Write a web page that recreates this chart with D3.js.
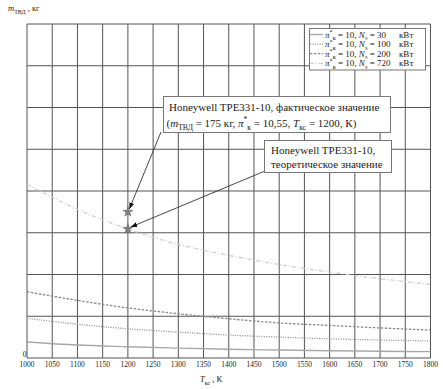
<!DOCTYPE html>
<html><head><meta charset="utf-8">
<script src="https://cdn.jsdelivr.net/npm/d3@7"></script>
<style>body{margin:0;background:#fff}svg{display:block}</style>
</head><body><svg id="c" width="443" height="389" font-family="'Liberation Serif', 'DejaVu Serif', serif"></svg>
<script>
const temps = [1000,1100,1200,1300,1400,1500,1600,1700,1800];
const seriesN30  = [19.2,15.5,13.5,11.8,10.5,9.5,8.7,8.1,7.6];
const seriesN100 = [47.5,40.5,35,31,27.5,25,23,21.5,20.4];
const seriesN200 = [79.4,69,60,53,47,42,39,36,33.5];
const seriesN720 = [208,178,154.5,136,123,112,103,95,88];
const seriesNames = ["30","100","200","720"];
const xTicks = d3.range(1000,1801,50);
const yGrid = d3.range(0,401,50);
const actualPoint = {t:1200, m:175};
const theoryPoint = {t:1200, m:154.5};

const svg = d3.select("#c");
const x = d3.scaleLinear().domain([1000,1800]).range([27,430.5]);
const y = d3.scaleLinear().domain([0,400]).range([358,24]);
const TXT = "#222";

// grid
svg.append("g").selectAll("line").data(xTicks).join("line")
  .attr("x1",d=>x(d)).attr("x2",d=>x(d)).attr("y1",y(0)).attr("y2",y(400))
  .attr("stroke","#555").attr("stroke-width",1);
svg.append("g").selectAll("line").data(yGrid).join("line")
  .attr("y1",d=>y(d)).attr("y2",d=>y(d)).attr("x1",x(1000)).attr("x2",x(1800))
  .attr("stroke","#555").attr("stroke-width",1);

// x tick labels
svg.append("g").selectAll("text").data(xTicks).join("text")
  .attr("x",d=>x(d)).attr("y",367).attr("text-anchor","middle").attr("fill",TXT)
  .attr("font-size",7.5).text(d=>d);
svg.append("text").attr("x",x(1000)-0.5).attr("y",y(0)-1).attr("text-anchor","end").attr("fill",TXT).attr("font-size",7.5).text("0");

function rich(sel, parts, size){
  sel.attr("fill",TXT);
  let shift = 0;
  parts.forEach(p=>{
    const ts = sel.append("tspan").text(p.t);
    let target = 0, fs = size;
    if(p.s==="sub"){target = size*0.3; fs=size*0.7;}
    if(p.s==="sup"){target = -size*0.4; fs=size*0.7;}
    ts.attr("font-size",fs);
    if(p.s==="i") ts.attr("font-style","italic");
    if(target!==shift){ ts.attr("dy", target-shift); shift=target; }
  });
}

// axis titles
rich(svg.append("text").attr("x",8).attr("y",11),
  [{t:"m",s:"i"},{t:"ТВД",s:"sub"},{t:" , кг"}],8.5);
rich(svg.append("text").attr("x",200).attr("y",382),
  [{t:"T",s:"i"},{t:"кс",s:"sub"},{t:" , К"}],8.5);

// lines
const allSeries = [
  {vals:seriesN30, color:"#a8a8a8", dash:null, w:1.4},
  {vals:seriesN100, color:"#a0a0a0", dash:"1.2,1.2", w:1.3},
  {vals:seriesN200, color:"#8a8a8a", dash:"2.5,1.5", w:1.3},
  {vals:seriesN720, color:"#cfcfcf", dash:"4,2,1,2", w:1.3}
];
const line = d3.line().x((d,i)=>x(temps[i])).y(d=>y(d)).curve(d3.curveMonotoneX);
allSeries.forEach(s=>{
  svg.append("path").attr("d",line(s.vals)).attr("fill","none")
    .attr("stroke",s.color).attr("stroke-width",s.w)
    .attr("stroke-dasharray",s.dash);
});

// legend
const lg = svg.append("g");
lg.append("rect").attr("x",309.5).attr("y",28.5).attr("width",116).attr("height",41.5)
  .attr("fill","#fff").attr("stroke","#777");
allSeries.forEach((s,i)=>{
  const yy = 34.5 + i*9.6;
  lg.append("line").attr("x1",310).attr("x2",323).attr("y1",yy).attr("y2",yy)
    .attr("stroke",s.color).attr("stroke-width",s.w).attr("stroke-dasharray",s.dash);
  rich(lg.append("text").attr("x",325).attr("y",yy+3),
    [{t:"π",s:"i"},{t:"*",s:"sup"},{t:"к",s:"sub"},{t:" = 10, "},{t:"N",s:"i"},{t:"э",s:"sub"},
     {t:" = "+seriesNames[i]}],9);
  lg.append("text").attr("x",399).attr("y",yy+3).attr("font-size",9).attr("fill",TXT).text("кВт");
});

// markers
[actualPoint, theoryPoint].forEach(p=>{
  svg.append("path").attr("d",d3.symbol().type(d3.symbolStar).size(32)())
    .attr("transform",`translate(${x(p.t)},${y(p.m)})`).attr("fill","#808080").attr("stroke","#666").attr("stroke-width",0.5);
});

// arrows
svg.append("defs").append("marker").attr("id","ah").attr("viewBox","0 0 10 10")
  .attr("refX",10).attr("refY",5).attr("markerWidth",7).attr("markerHeight",7).attr("orient","auto")
  .append("path").attr("d","M0,1L10,5L0,9z").attr("fill","#111");
svg.append("line").attr("x1",161).attr("y1",132).attr("x2",x(actualPoint.t)+1.5).attr("y2",y(actualPoint.m)-3)
  .attr("stroke","#333").attr("stroke-width",0.9).attr("marker-end","url(#ah)");
svg.append("line").attr("x1",265).attr("y1",171).attr("x2",x(theoryPoint.t)+3).attr("y2",y(theoryPoint.m)-2)
  .attr("stroke","#333").attr("stroke-width",0.9).attr("marker-end","url(#ah)");

// annotation boxes
svg.append("rect").attr("x",163.5).attr("y",96.5).attr("width",227).attr("height",36)
  .attr("fill","#fff").attr("stroke","#777");
rich(svg.append("text").attr("x",169).attr("y",110.5),
  [{t:"Honeywell TPE331-10, фактическое значение"}],11);
rich(svg.append("text").attr("x",166.5).attr("y",126.5),
  [{t:"("},{t:"m",s:"i"},{t:"ТВД",s:"sub"},{t:" = 175 кг, "},{t:"π",s:"i"},{t:"*",s:"sup"},{t:"к",s:"sub"},
   {t:" = 10,55, "},{t:"T",s:"i"},{t:"кс",s:"sub"},{t:" = 1200, К)"}],11);

svg.append("rect").attr("x",264.5).attr("y",140.5).attr("width",127).attr("height",32)
  .attr("fill","#fff").attr("stroke","#777");
rich(svg.append("text").attr("x",271).attr("y",154),[{t:"Honeywell TPE331-10,"}],11);
rich(svg.append("text").attr("x",271).attr("y",167.5),[{t:"теоретическое значение"}],11);
</script></body></html>
